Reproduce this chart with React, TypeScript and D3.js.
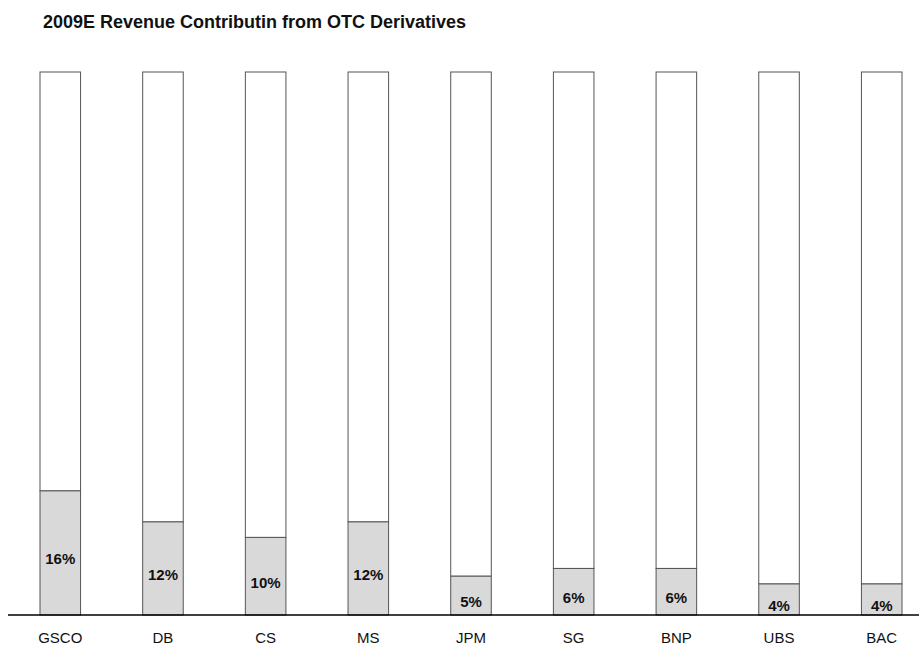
import * as d3 from "d3";

const banks = ["GSCO", "DB", "CS", "MS", "JPM", "SG", "BNP", "UBS", "BAC"];
const otcShare = [16, 12, 10, 12, 5, 6, 6, 4, 4];
const otherShare = [54, 58, 60, 58, 65, 64, 64, 66, 66];
const yMax = 70;

const W = 919;
const H = 646;
const baseY = 615;
const topY = 72;
const font = "'Liberation Sans', Arial, Helvetica, sans-serif";

export default function App() {
  const x = d3
    .scaleBand<string>()
    .domain(banks)
    .range([40, 902])
    .paddingInner(0.605)
    .paddingOuter(0);
  const y = d3.scaleLinear().domain([0, yMax]).range([baseY, topY]);

  const rows = banks.map((b, i) => ({
    bank: b,
    otc: otcShare[i],
    other: otherShare[i],
  }));

  return (
    <svg
      width={W}
      height={H}
      style={{ position: "absolute", left: 0, top: 0, background: "#fff" }}
    >
      <text
        x={43}
        y={28}
        fontFamily={font}
        fontWeight="bold"
        fontSize={18}
        fill="#111"
      >
        2009E Revenue Contributin from OTC Derivatives
      </text>

      {rows.map((d) => {
        const bx = x(d.bank) || 0;
        const bw = x.bandwidth();
        const yOtc = y(d.otc);
        const yTop = y(d.otc + d.other);
        return (
          <g key={d.bank}>
            <rect
              x={bx}
              y={yTop}
              width={bw}
              height={yOtc - yTop}
              fill="#fff"
              stroke="#555"
              strokeWidth={1}
            />
            <rect
              x={bx}
              y={yOtc}
              width={bw}
              height={baseY - yOtc}
              fill="#d9d9d9"
              stroke="#555"
              strokeWidth={1}
            />
            <text
              x={bx + bw / 2}
              y={(yOtc + baseY) / 2 + 6}
              textAnchor="middle"
              dominantBaseline="central"
              fontFamily={font}
              fontWeight="bold"
              fontSize={15}
              fill="#111"
            >
              {d.otc}%
            </text>
            <text
              x={bx + bw / 2}
              y={643}
              textAnchor="middle"
              fontFamily={font}
              fontSize={15}
              fill="#111"
            >
              {d.bank}
            </text>
          </g>
        );
      })}

      <line x1={8} x2={919} y1={baseY} y2={baseY} stroke="#000" strokeWidth={1.5} />
    </svg>
  );
}
